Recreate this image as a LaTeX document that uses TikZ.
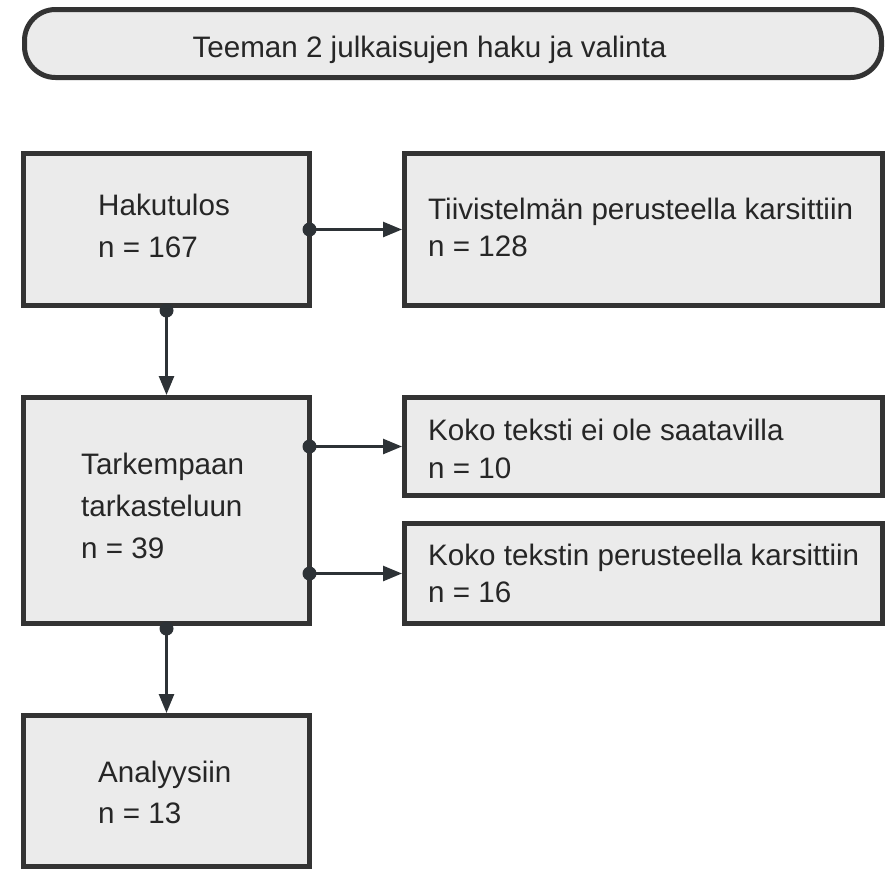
\documentclass[tikz,border=0pt]{standalone}
\usepackage{fontspec}
\setmainfont{Liberation Sans}
\usetikzlibrary{arrows.meta}
\definecolor{bordc}{HTML}{333333}
\definecolor{fillc}{HTML}{EBEBEB}
\definecolor{txtc}{HTML}{262626}
\definecolor{arrc}{HTML}{2D3236}
\begin{document}
\begin{tikzpicture}[x=1pt,y=-1pt,
  box/.style={draw=bordc,fill=fillc,line width=5pt,rectangle,inner sep=0pt},
  lbl/.style={anchor=base west,inner sep=0pt,text=txtc,font=\fontsize{29.6}{34}\selectfont},
  conn/.style={draw=arrc,line width=2.6pt,-{Triangle[length=19pt,width=15pt]}},
  dotc/.style={fill=arrc}
]
\useasboundingbox (0,0) rectangle (890,868);
% title
\node[box,rounded corners=31pt,minimum width=857pt,minimum height=68pt] (title) at (453,43.5) {};
\node[lbl,anchor=base] (titletxt) at (429.5,57) {Teeman 2 julkaisujen haku ja valinta};
% boxes
\node[box,minimum width=286pt,minimum height=152pt] (b1) at (166.5,229.5) {};
\node[box,minimum width=478pt,minimum height=152pt] (b2) at (643.5,229.5) {};
\node[box,minimum width=286pt,minimum height=226pt] (b3) at (166.5,510.5) {};
\node[box,minimum width=478pt,minimum height=98pt] (b4) at (643.5,446.5) {};
\node[box,minimum width=478pt,minimum height=100pt] (b5) at (643.5,573.5) {};
\node[box,minimum width=286pt,minimum height=151pt] (b6) at (166.5,791) {};
% texts
\node[lbl] (t1a) at (98,215) {Hakutulos};
\node[lbl] (t1b) at (98,257) {n = 167};
\node[lbl] (t2a) at (428,219) {Tiivistelmän perusteella karsittiin};
\node[lbl] (t2b) at (428,256) {n = 128};
\node[lbl] (t3a) at (81,474) {Tarkempaan};
\node[lbl] (t3b) at (81,516) {tarkasteluun};
\node[lbl] (t3c) at (81,558) {n = 39};
\node[lbl] (t4a) at (428,440) {Koko teksti ei ole saatavilla};
\node[lbl] (t4b) at (428,478) {n = 10};
\node[lbl] (t5a) at (428,565) {Koko tekstin perusteella karsittiin};
\node[lbl] (t5b) at (428,602) {n = 16};
\node[lbl] (t6a) at (98,782) {Analyysiin};
\node[lbl] (t6b) at (98,823) {n = 13};
% connectors
\coordinate (s1) at ([xshift=-2.5pt]b1.east);
\coordinate (s2) at ([yshift=-2.5pt]b1.south);
\coordinate (s3) at ([xshift=-2.5pt]b3.east |- b4.west);
\coordinate (s4) at ([xshift=-2.5pt]b3.east |- b5.west);
\coordinate (s5) at ([yshift=-2.5pt]b3.south);
\draw[conn] (s1) -- (b2.west);
\draw[conn] (s2) -- (b3.north);
\draw[conn] (s3) -- (b4.west);
\draw[conn] (s4) -- (b5.west);
\draw[conn] (s5) -- (b6.north);
\foreach \p in {s1,s2,s3,s4,s5} \fill[dotc] (\p) circle (7pt);
\end{tikzpicture}
\end{document}
